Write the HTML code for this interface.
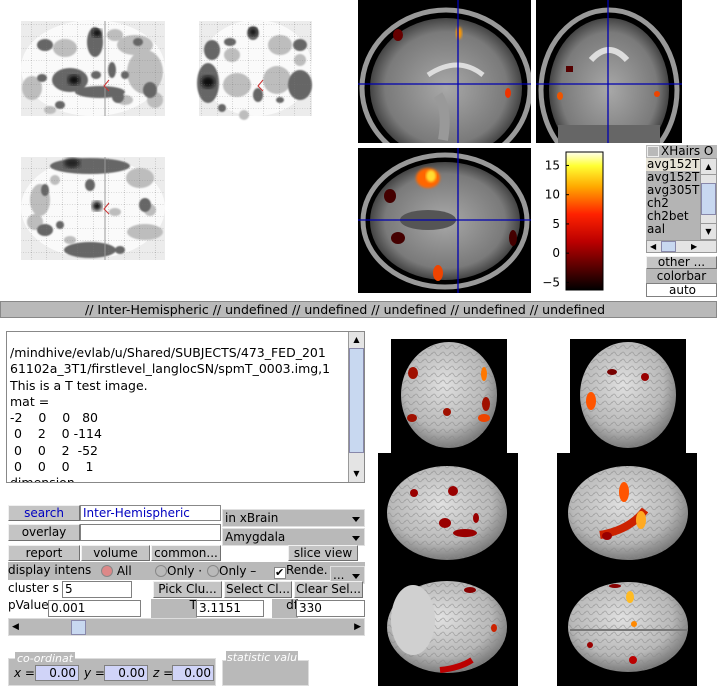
<!DOCTYPE html>
<html><head><meta charset="utf-8">
<style>
*{box-sizing:border-box;margin:0;padding:0}
body{width:717px;height:692px;background:#fff;position:relative;overflow:hidden;font-family:"DejaVu Sans","Liberation Sans",sans-serif;font-size:12px;color:#000}
.a{position:absolute}
.btn{position:absolute;background:#c4c4c4;border:1px solid;border-color:#f0f0f0 #707070 #707070 #f0f0f0;text-align:center;font-size:12px;line-height:14px;white-space:nowrap;overflow:hidden}
.tb{position:absolute;background:#fff;border:1px solid #808080;font-size:12px;line-height:15px;padding-left:2px;white-space:nowrap;overflow:hidden}
.gr{position:absolute;background:#b9b9b9;font-size:12px;line-height:16px;white-space:nowrap;overflow:hidden}
.dd{position:absolute;background:#b9b9b9;border:1px solid #e0e0e0;font-size:12px;line-height:16px;padding-left:2px;white-space:nowrap}
.dd:after{content:"";position:absolute;right:4px;top:7px;border:4px solid transparent;border-top:5px solid #000}
.lst div{height:13px;line-height:13px;font-size:12px;padding-left:1px}
</style></head><body>

<!-- glass brains -->
<svg class="a" style="left:0;top:0" width="356" height="290">
<defs>
<pattern id="grid" width="15.5" height="12" patternUnits="userSpaceOnUse"><path d="M0 0H15.5M0 0V12" stroke="#777" stroke-width="0.6" stroke-dasharray="1,1.5" fill="none"/></pattern>
<filter id="bl"><feGaussianBlur stdDeviation="2"/></filter>
<filter id="bs"><feGaussianBlur stdDeviation="0.8"/></filter>
</defs>
<g>
<rect x="21" y="21" width="144" height="95" fill="#ececec"/>
<ellipse cx="93" cy="68" rx="72" ry="48" fill="#fafafa"/>
<g fill="#bdbdbd" filter="url(#bs)"><ellipse cx="145" cy="72" rx="18" ry="22"/><ellipse cx="65" cy="48" rx="12" ry="9"/><ellipse cx="32" cy="88" rx="10" ry="12"/><ellipse cx="135" cy="45" rx="18" ry="10"/><ellipse cx="115" cy="35" rx="8" ry="6"/><ellipse cx="125" cy="100" rx="8" ry="5"/><ellipse cx="50" cy="110" rx="6" ry="4"/><ellipse cx="155" cy="100" rx="8" ry="8"/></g>
<g fill="#666" filter="url(#bs)"><ellipse cx="70" cy="80" rx="18" ry="12"/><ellipse cx="95" cy="42" rx="8" ry="15"/><ellipse cx="100" cy="92" rx="25" ry="6"/><ellipse cx="45" cy="45" rx="8" ry="6"/><ellipse cx="150" cy="90" rx="7" ry="8"/><ellipse cx="118" cy="97" rx="6" ry="6"/><ellipse cx="125" cy="75" rx="4" ry="4"/><ellipse cx="112" cy="70" rx="4" ry="8"/><ellipse cx="60" cy="105" rx="5" ry="4"/><ellipse cx="42" cy="78" rx="5" ry="4"/><ellipse cx="138" cy="42" rx="5" ry="4"/><ellipse cx="96" cy="75" rx="5" ry="4"/></g>
<ellipse cx="74" cy="80" rx="6" ry="5" fill="#111" filter="url(#bl)"/><ellipse cx="97" cy="33" rx="5" ry="4" fill="#111" filter="url(#bl)"/>
<rect x="21" y="21" width="144" height="95" fill="url(#grid)"/>
<line x1="105" y1="21" x2="105" y2="116" stroke="#999"/>
<path d="M109 80L104 86L109 91" stroke="#c33" fill="none"/>
</g>
<g>
<rect x="199" y="21" width="113" height="95" fill="#ececec"/>
<ellipse cx="256" cy="68" rx="56" ry="48" fill="#fafafa"/>
<g fill="#bdbdbd" filter="url(#bs)"><ellipse cx="237" cy="85" rx="14" ry="12"/><ellipse cx="277" cy="80" rx="14" ry="14"/><ellipse cx="280" cy="45" rx="12" ry="10"/><ellipse cx="232" cy="55" rx="8" ry="7"/><ellipse cx="244" cy="115" rx="5" ry="5"/><ellipse cx="300" cy="60" rx="6" ry="6"/></g>
<g fill="#666" filter="url(#bs)"><ellipse cx="208" cy="83" rx="11" ry="20"/><ellipse cx="300" cy="85" rx="12" ry="15"/><ellipse cx="212" cy="50" rx="8" ry="10"/><ellipse cx="253" cy="33" rx="6" ry="7"/><ellipse cx="258" cy="95" rx="5" ry="7"/><ellipse cx="300" cy="45" rx="7" ry="6"/><ellipse cx="230" cy="42" rx="6" ry="4"/><ellipse cx="222" cy="108" rx="4" ry="4"/><ellipse cx="280" cy="100" rx="4" ry="3"/></g>
<ellipse cx="208" cy="82" rx="7" ry="6" fill="#111" filter="url(#bl)"/><ellipse cx="253" cy="32" rx="4" ry="4" fill="#111" filter="url(#bl)"/>
<rect x="199" y="21" width="113" height="95" fill="url(#grid)"/>
<path d="M263 80L258 86L263 91" stroke="#c33" fill="none"/>
</g>
<g>
<rect x="21" y="157" width="144" height="103" fill="#ececec"/>
<ellipse cx="93" cy="208" rx="72" ry="50" fill="#fafafa"/>
<g fill="#bdbdbd" filter="url(#bs)"><ellipse cx="40" cy="200" rx="10" ry="16"/><ellipse cx="140" cy="178" rx="14" ry="10"/><ellipse cx="145" cy="232" rx="18" ry="8"/><ellipse cx="35" cy="222" rx="8" ry="8"/><ellipse cx="115" cy="212" rx="6" ry="4"/><ellipse cx="150" cy="210" rx="6" ry="6"/><ellipse cx="70" cy="240" rx="6" ry="4"/><ellipse cx="55" cy="180" rx="5" ry="5"/></g>
<g fill="#666" filter="url(#bs)"><ellipse cx="90" cy="166" rx="40" ry="8"/><ellipse cx="90" cy="250" rx="26" ry="8"/><ellipse cx="45" cy="230" rx="8" ry="6"/><ellipse cx="145" cy="205" rx="6" ry="7"/><ellipse cx="90" cy="185" rx="5" ry="6"/><ellipse cx="60" cy="225" rx="4" ry="4"/><ellipse cx="45" cy="190" rx="4" ry="6"/><ellipse cx="120" cy="250" rx="5" ry="4"/></g>
<ellipse cx="97" cy="206" rx="5" ry="5" fill="#111" filter="url(#bl)"/><ellipse cx="72" cy="163" rx="8" ry="5" fill="#222" filter="url(#bl)"/>
<rect x="21" y="157" width="144" height="103" fill="url(#grid)"/>
<line x1="105" y1="157" x2="105" y2="260" stroke="#999"/>
<path d="M109 203L104 209L109 214" stroke="#c33" fill="none"/>
</g>
</svg>

<!-- MRI slices -->
<svg class="a" style="left:358px;top:0" width="326" height="293">
<defs>
<radialGradient id="brn" cx="50%" cy="50%" r="50%"><stop offset="0" stop-color="#a8a8a8"/><stop offset="0.8" stop-color="#7a7a7a"/><stop offset="1" stop-color="#444"/></radialGradient>
<filter id="b2"><feGaussianBlur stdDeviation="1.2"/></filter>
<clipPath id="c1"><rect x="0" y="0" width="173" height="143"/></clipPath>
<clipPath id="c2"><rect x="0" y="0" width="146" height="143"/></clipPath>
<clipPath id="c3"><rect x="0" y="0" width="173" height="145"/></clipPath>
</defs>
<g clip-path="url(#c1)">
<rect x="0" y="0" width="173" height="143" fill="#000"/>
<ellipse cx="88" cy="88" rx="84" ry="78" fill="none" stroke="#999" stroke-width="5"/>
<ellipse cx="88" cy="88" rx="76" ry="70" fill="url(#brn)"/>
<path d="M70 75Q100 55 125 75" stroke="#ddd" stroke-width="5" fill="none"/>
<path d="M80 95Q90 110 85 140" stroke="#999" stroke-width="10" fill="none"/>
<ellipse cx="40" cy="35" rx="5" ry="6" fill="#600"/><ellipse cx="101" cy="33" rx="3" ry="6" fill="#f90" filter="url(#b2)"/><ellipse cx="150" cy="93" rx="3" ry="5" fill="#e30"/>
<line x1="100" y1="0" x2="100" y2="143" stroke="#0000b0" stroke-width="1.3"/><line x1="0" y1="84" x2="173" y2="84" stroke="#0000b0" stroke-width="1.3"/>
</g>
<g transform="translate(178,0)"><g clip-path="url(#c2)">
<rect x="0" y="0" width="146" height="143" fill="#000"/>
<ellipse cx="73" cy="90" rx="68" ry="80" fill="none" stroke="#999" stroke-width="5"/>
<ellipse cx="73" cy="90" rx="60" ry="72" fill="url(#brn)"/>
<rect x="22" y="125" width="102" height="18" fill="#666"/>
<path d="M55 60Q73 40 91 60" stroke="#ddd" stroke-width="6" fill="none"/>
<rect x="30" y="66" width="7" height="6" fill="#500"/><ellipse cx="24" cy="96" rx="3" ry="4" fill="#e50"/><ellipse cx="121" cy="94" rx="3" ry="3" fill="#e40"/>
<line x1="72" y1="0" x2="72" y2="143" stroke="#0000b0" stroke-width="1.3"/><line x1="0" y1="84" x2="146" y2="84" stroke="#0000b0" stroke-width="1.3"/>
</g></g>
<g transform="translate(0,148)"><g clip-path="url(#c3)">
<rect x="0" y="0" width="173" height="145" fill="#000"/>
<ellipse cx="87" cy="73" rx="82" ry="66" fill="none" stroke="#999" stroke-width="5"/>
<ellipse cx="87" cy="73" rx="75" ry="59" fill="url(#brn)"/>
<ellipse cx="70" cy="72" rx="28" ry="10" fill="#555"/>
<ellipse cx="70" cy="30" rx="12" ry="10" fill="#f60" filter="url(#b2)"/><ellipse cx="73" cy="28" rx="5" ry="6" fill="#fd3" filter="url(#b2)"/>
<ellipse cx="32" cy="48" rx="6" ry="7" fill="#400"/><ellipse cx="40" cy="90" rx="7" ry="6" fill="#400"/><ellipse cx="155" cy="90" rx="4" ry="8" fill="#400"/><ellipse cx="80" cy="125" rx="5" ry="8" fill="#e40"/>
<line x1="100" y1="0" x2="100" y2="145" stroke="#0000b0" stroke-width="1.3"/><line x1="0" y1="72" x2="173" y2="72" stroke="#0000b0" stroke-width="1.3"/>
</g></g>
</svg>

<!-- colorbar -->
<svg class="a" id="cbar" style="left:530px;top:148px" width="80" height="148">
<defs><linearGradient id="hot" x1="0" y1="1" x2="0" y2="0"><stop offset="0" stop-color="#000"/><stop offset="0.35" stop-color="#b00"/><stop offset="0.55" stop-color="#f20"/><stop offset="0.75" stop-color="#fa0"/><stop offset="0.9" stop-color="#ff3"/><stop offset="1" stop-color="#fffff0"/></linearGradient></defs>
<rect x="36" y="4" width="37" height="138" fill="url(#hot)" stroke="#000"/>
</svg>

<!-- status bar -->
<div class="gr" style="left:0;top:301px;width:717px;height:17px;border:1px solid #888;padding-left:84px;font-size:12.5px;line-height:15px">// Inter-Hemispheric // undefined // undefined // undefined // undefined // undefined</div>

<!-- right panel -->
<div class="gr" style="left:646px;top:145px;width:71px;height:13px;line-height:13px"><span style="display:inline-block;width:12px;height:11px;border:1px solid #eee;vertical-align:top;margin:1px 2px 0 1px"></span>XHairs O</div>
<div class="a lst" style="left:646px;top:158px;width:54px;height:82px;background:#b4b4b4;overflow:hidden">
<div style="background:#e6e2d6">avg152T</div><div>avg152T</div><div>avg305T</div><div>ch2</div><div>ch2bet</div><div>aal</div></div>
<div class="a" style="left:700px;top:158px;width:17px;height:82px;background:#e4e4e4;border:1px solid #999">
<div style="height:16px;border-bottom:1px solid #999;text-align:center;font-size:8px;line-height:15px">▲</div>
<div style="margin-top:8px;height:32px;background:#c8d8f0;border:1px solid #88a"></div>
<div style="position:absolute;bottom:0;width:15px;height:16px;border-top:1px solid #999;text-align:center;font-size:8px;line-height:15px">▼</div></div>
<div class="a" style="left:646px;top:240px;width:71px;height:13px;background:#e4e4e4;border:1px solid #999;font-size:8px;line-height:11px"><span style="position:absolute;left:3px">◀</span><span style="position:absolute;left:14px;width:15px;height:11px;background:#c8d8f0;border:1px solid #88a"></span><span style="position:absolute;left:44px">▶</span></div>
<div class="btn" style="left:646px;top:256px;width:71px;height:13px;line-height:11px">other ...</div>
<div class="gr" style="left:646px;top:269px;width:71px;height:14px;text-align:center;line-height:14px">colorbar</div>
<div class="tb" style="left:646px;top:283px;width:71px;height:14px;text-align:center;line-height:12px">auto</div>

<!-- info text box -->
<div class="a" style="left:6px;top:331px;width:359px;height:152px;border:1px solid #888;background:#fff;overflow:hidden">
<div style="position:absolute;left:3px;top:13px;width:340px;font-size:12.5px;line-height:16.3px;white-space:pre">/mindhive/evlab/u/Shared/SUBJECTS/473_FED_201
61102a_3T1/firstlevel_langlocSN/spmT_0003.img,1
This is a T test image.
mat =
-2    0    0   80
 0    2    0 -114
 0    0    2  -52
 0    0    0    1
dimension</div>
<div style="position:absolute;right:0;top:0;width:16px;height:150px;background:#e4e4e4;border-left:1px solid #999">
<div style="height:16px;text-align:center;font-size:8px;line-height:16px">▲</div>
<div style="height:105px;background:#c8d8f0;border:1px solid #88a"></div>
<div style="position:absolute;bottom:0;width:15px;height:16px;text-align:center;font-size:8px;line-height:16px">▼</div></div></div>

<!-- controls -->
<div class="btn" style="left:8px;top:505px;width:72px;height:16px;color:#0000c0">search</div>
<div class="tb" style="left:80px;top:505px;width:141px;height:16px;color:#0000c0;border-color:#888">Inter-Hemispheric</div>
<div class="dd" style="left:222px;top:509px;width:143px;height:18px">in xBrain</div>
<div class="btn" style="left:8px;top:524px;width:72px;height:17px">overlay</div>
<div class="tb" style="left:80px;top:524px;width:141px;height:17px"></div>
<div class="dd" style="left:222px;top:528px;width:143px;height:18px">Amygdala</div>
<div class="btn" style="left:8px;top:545px;width:72px;height:16px">report</div>
<div class="btn" style="left:81px;top:545px;width:69px;height:16px">volume</div>
<div class="btn" style="left:151px;top:545px;width:70px;height:16px">common...</div>
<div class="btn" style="left:288px;top:545px;width:70px;height:16px">slice view</div>
<div class="gr" style="left:8px;top:562px;width:357px;height:18px">display intens</div>
<div class="a" style="left:101px;top:564px;font-size:12px;white-space:nowrap"><span style="display:inline-block;width:12px;height:12px;border-radius:50%;border:1px solid #888;background:#d88;vertical-align:-2px"></span> All</div>
<div class="a" style="left:155px;top:564px;font-size:12px;white-space:nowrap"><span style="display:inline-block;width:12px;height:12px;border-radius:50%;border:1px solid #888;vertical-align:-2px"></span>Only ·</div>
<div class="a" style="left:207px;top:564px;font-size:12px;white-space:nowrap"><span style="display:inline-block;width:12px;height:12px;border-radius:50%;border:1px solid #888;vertical-align:-2px"></span>Only –</div>
<div class="a" style="left:274px;top:563px;font-size:12px;white-space:nowrap"><span style="display:inline-block;width:12px;height:12px;background:#fff;border:1px solid #888;font-size:11px;line-height:10px;vertical-align:-2px">✔</span>Rende.</div>
<div class="dd" style="left:330px;top:566px;width:35px;height:18px">...</div>
<div class="gr" style="left:8px;top:581px;width:55px;height:17px;background:#fff;line-height:14px">cluster s</div>
<div class="tb" style="left:62px;top:581px;width:70px;height:17px">5</div>
<div class="btn" style="left:153px;top:581px;width:69px;height:17px">Pick Clu...</div>
<div class="btn" style="left:224px;top:581px;width:68px;height:17px">Select Cl...</div>
<div class="btn" style="left:294px;top:581px;width:69px;height:17px">Clear Sel...</div>
<div class="a" style="left:8px;top:598px;font-size:12px">pValue</div>
<div class="tb" style="left:48px;top:600px;width:93px;height:17px">0.001</div>
<div class="gr" style="left:151px;top:599px;width:46px;height:19px;text-align:right;line-height:12px">T</div>
<div class="tb" style="left:196px;top:600px;width:68px;height:17px">3.1151</div>
<div class="gr" style="left:272px;top:599px;width:26px;height:19px;text-align:right;line-height:12px">df</div>
<div class="tb" style="left:296px;top:600px;width:69px;height:17px">330</div>
<div class="a" style="left:8px;top:618px;width:357px;height:18px;background:#b9b9b9;border:1px solid #ddd;font-size:9px;line-height:16px">
<span style="position:absolute;left:3px">◀</span><span style="position:absolute;left:62px;top:1px;width:15px;height:15px;background:#c8d8f0;border:1px solid #88a"></span><span style="position:absolute;right:3px">▶</span></div>
<div class="gr" style="left:8px;top:658px;width:208px;height:28px;border:1px solid #ddd"></div>
<div class="a" style="left:15px;top:652px;font-size:11px;color:#fff;font-style:italic;background:#b9b9b9;padding:0 2px">co-ordinat</div>
<div class="a" style="left:14px;top:666px;font-size:12px;font-style:italic">x =</div>
<div class="tb" style="left:35px;top:665px;width:44px;height:16px;background:#d0d4f8;text-align:right;padding-right:2px">0.00</div>
<div class="a" style="left:84px;top:666px;font-size:12px;font-style:italic">y =</div>
<div class="tb" style="left:104px;top:665px;width:44px;height:16px;background:#d0d4f8;text-align:right;padding-right:2px">0.00</div>
<div class="a" style="left:153px;top:666px;font-size:12px;font-style:italic">z =</div>
<div class="tb" style="left:172px;top:665px;width:42px;height:16px;background:#d0d4f8;text-align:right;padding-right:2px">0.00</div>
<div class="gr" style="left:222px;top:660px;width:87px;height:26px;border:1px solid #ddd"></div>
<div class="a" style="left:226px;top:651px;font-size:11px;color:#fff;font-style:italic;background:#b9b9b9;padding:0 1px">statistic valu</div>

<!-- rendered brains -->
<svg class="a" id="renders" style="left:0;top:0" width="717" height="692">
<defs><radialGradient id="rb" cx="45%" cy="40%" r="60%"><stop offset="0" stop-color="#e0e0e0"/><stop offset="0.7" stop-color="#b8b8b8"/><stop offset="1" stop-color="#7a7a7a"/></radialGradient>
<pattern id="gyri" width="9" height="7" patternUnits="userSpaceOnUse"><path d="M0 4Q2 0 4 4T9 3" stroke="#888" stroke-width="0.8" fill="none" opacity="0.6"/></pattern></defs>
<g><rect x="391" y="339" width="116" height="114" fill="#000"/><ellipse cx="449" cy="395" rx="48" ry="53" fill="url(#rb)"/><ellipse cx="449" cy="395" rx="48" ry="53" fill="url(#gyri)"/>
<g fill="#a01000"><ellipse cx="413" cy="373" rx="5" ry="6"/><ellipse cx="412" cy="418" rx="5" ry="4"/><ellipse cx="447" cy="412" rx="4" ry="4"/><ellipse cx="486" cy="404" rx="4" ry="7"/></g><ellipse cx="484" cy="374" rx="3" ry="7" fill="#f70"/><ellipse cx="484" cy="418" rx="6" ry="4" fill="#e40"/></g>
<g><rect x="570" y="339" width="116" height="114" fill="#000"/><ellipse cx="628" cy="395" rx="48" ry="53" fill="url(#rb)"/><ellipse cx="628" cy="395" rx="48" ry="53" fill="url(#gyri)"/>
<ellipse cx="591" cy="401" rx="5" ry="9" fill="#f50"/><ellipse cx="645" cy="377" rx="4" ry="4" fill="#900"/><ellipse cx="612" cy="372" rx="5" ry="3" fill="#700"/></g>
<g><rect x="378" y="453" width="140" height="117" fill="#000"/><ellipse cx="447" cy="513" rx="60" ry="47" fill="url(#rb)"/><ellipse cx="447" cy="513" rx="60" ry="47" fill="url(#gyri)"/>
<g fill="#900"><ellipse cx="414" cy="493" rx="4" ry="4"/><ellipse cx="453" cy="491" rx="5" ry="5"/><ellipse cx="445" cy="523" rx="6" ry="5"/><ellipse cx="465" cy="533" rx="12" ry="4"/><ellipse cx="476" cy="518" rx="3" ry="5"/></g></g>
<g><rect x="557" y="453" width="140" height="117" fill="#000"/><ellipse cx="628" cy="513" rx="60" ry="47" fill="url(#rb)"/><ellipse cx="628" cy="513" rx="60" ry="47" fill="url(#gyri)"/>
<ellipse cx="624" cy="492" rx="5" ry="10" fill="#f50"/><path d="M600 535Q630 530 645 510" stroke="#c20" stroke-width="8" fill="none"/><ellipse cx="641" cy="520" rx="5" ry="9" fill="#fa2"/><ellipse cx="607" cy="536" rx="5" ry="4" fill="#900"/></g>
<g><rect x="378" y="570" width="140" height="116" fill="#000"/><ellipse cx="447" cy="627" rx="60" ry="46" fill="url(#rb)"/><ellipse cx="447" cy="627" rx="60" ry="46" fill="url(#gyri)"/>
<ellipse cx="413" cy="620" rx="22" ry="35" fill="#d0d0d0"/><path d="M440 670Q460 668 472 660" stroke="#b00" stroke-width="6" fill="none"/><ellipse cx="470" cy="590" rx="6" ry="3" fill="#800"/><ellipse cx="494" cy="628" rx="3" ry="4" fill="#c20"/></g>
<g><rect x="557" y="570" width="140" height="116" fill="#000"/><ellipse cx="628" cy="627" rx="60" ry="45" fill="url(#rb)"/><ellipse cx="628" cy="627" rx="60" ry="45" fill="url(#gyri)"/>
<line x1="570" y1="630" x2="688" y2="630" stroke="#777" stroke-width="2"/><ellipse cx="630" cy="597" rx="4" ry="6" fill="#fb2"/><ellipse cx="634" cy="624" rx="3" ry="3" fill="#f80"/><ellipse cx="615" cy="586" rx="6" ry="2" fill="#800"/><ellipse cx="633" cy="660" rx="4" ry="4" fill="#b00"/><ellipse cx="590" cy="645" rx="3" ry="3" fill="#900"/></g>
</svg>

<script>
const cbTicks = [15, 10, 5, 0, -5];
const cbMin = -6.3, cbMax = 17.3;
const svgNS = "http://www.w3.org/2000/svg";
const cb = document.getElementById('cbar');
function cbY(v){ return 4 + (cbMax - v) / (cbMax - cbMin) * 138; }
cbTicks.forEach(function(v){
  const y = cbY(v);
  const t = document.createElementNS(svgNS, 'text');
  
  
  t.setAttribute('x', 30); t.setAttribute('y', y + 4);
  t.setAttribute('text-anchor', 'end');
  t.setAttribute('font-size', '12');
  t.setAttribute('font-family', 'DejaVu Sans, Liberation Sans, sans-serif');
  t.textContent = v < 0 ? '\u2212' + (-v) : String(v);
  cb.appendChild(t);
  const l = document.createElementNS(svgNS, 'line');
  
  
  l.setAttribute('x1', 36); l.setAttribute('x2', 39);
  l.setAttribute('y1', y); l.setAttribute('y2', y);
  l.setAttribute('stroke', '#000');
  cb.appendChild(l);
});
</script>
</body></html>
